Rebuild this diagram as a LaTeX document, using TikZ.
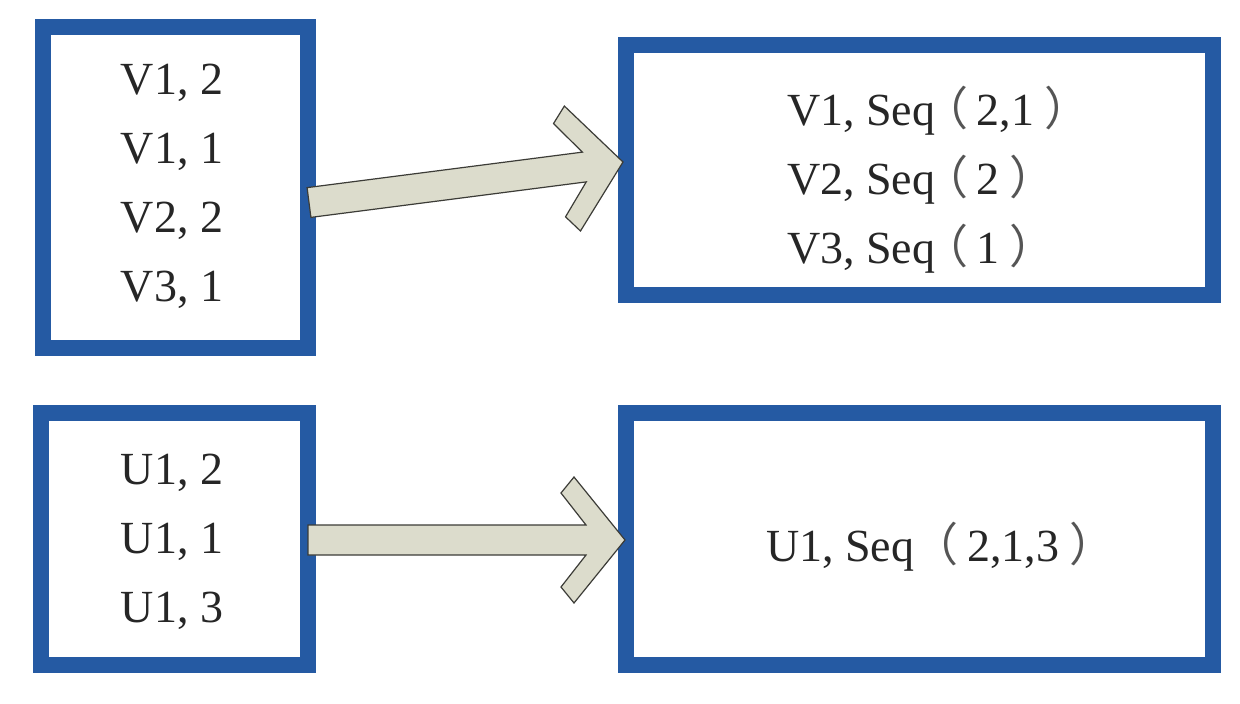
\documentclass[tikz,border=0pt]{standalone}
\usepackage{fontspec}
\setmainfont{Liberation Serif}
\newfontfamily\cjkp[RawFeature=+palt]{Noto Sans CJK SC}
\usetikzlibrary{calc}
\definecolor{boxblue}{RGB}{37,90,163}
\definecolor{arrowfill}{RGB}{220,220,204}
\definecolor{arrowline}{RGB}{60,60,55}
\definecolor{parcol}{RGB}{85,85,85}
\newcommand\fparl{\makebox[0.9em][l]{\hspace{0.18em}{\cjkp\color{parcol}（}}}
\newcommand\fparr{\hspace{0.25em}{\cjkp\color{parcol}）}}
\newcommand\fatarrow[2]{%
  \pgfmathanglebetweenpoints{\pgfpointanchor{#1}{center}}{\pgfpointanchor{#2}{center}}%
  \edef\faang{\pgfmathresult}%
  \pgfpointdiff{\pgfpointanchor{#1}{center}}{\pgfpointanchor{#2}{center}}%
  \pgfgetlastxy{\fadx}{\fady}%
  \pgfmathveclen{\fadx}{\fady}%
  \edef\falen{\pgfmathresult}%
  \begin{scope}[shift={(#1)},rotate=\faang]
    \draw[fatarrow] (0pt,7.5pt) -- ({\falen pt-19.5pt},7.5pt) -- ({\falen pt-32pt},23.5pt)
      -- ({\falen pt-25.5pt},31.5pt) -- (\falen pt,0pt) -- ({\falen pt-25.5pt},-31.5pt)
      -- ({\falen pt-32pt},-23.5pt) -- ({\falen pt-19.5pt},-7.5pt) -- (0pt,-7.5pt) -- cycle;
  \end{scope}}
\begin{document}
\begin{tikzpicture}[x=0.5pt,y=-0.5pt,
  bluebox/.style={draw=boxblue,line width=8pt,fill=white,rectangle,inner sep=0pt,outer sep=0pt},
  txt/.style={inner sep=0pt,text=black!85,font=\fontsize{23pt}{34.5pt}\selectfont},
  fatarrow/.style={fill=arrowfill,draw=arrowline,line width=0.6pt,line join=miter}]
\useasboundingbox[fill=white] (0,0) rectangle (1240,703);
% boxes
\node[bluebox,minimum width=132.5pt,minimum height=160.5pt] (A) at (175.5,187.5) {};
\node[bluebox,minimum width=293.5pt,minimum height=125pt] (B) at (919.5,170) {};
\node[bluebox,minimum width=133.5pt,minimum height=126pt] (C) at (174.5,539) {};
\node[bluebox,minimum width=293.5pt,minimum height=126pt] (D) at (919.5,539) {};
% texts
\node[txt,align=center] (ta) at (172,186) {V1, 2\\V1, 1\\V2, 2\\V3, 1};
\node[txt,align=left] (tb) at (928,180) {V1, Seq\fparl 2,1\fparr\\V2, Seq\fparl 2\fparr\\V3, Seq\fparl 1\fparr};
\node[txt,align=center] (tc) at (172,542) {U1, 2\\U1, 1\\U1, 3};
\node[txt] (td) at (930,547) {U1, Seq \fparl 2,1,3\fparr};
% arrows
\coordinate (s1) at ($(A.east)+(1,15)$);
\coordinate (t1) at ($(B.west)+(-3,-8)$);
\coordinate (s2) at ($(C.east)+(0,1)$);
\coordinate (t2) at ($(D.west)+(-1,1)$);
\fatarrow{s1}{t1}
\fatarrow{s2}{t2}
\end{tikzpicture}
\end{document}
